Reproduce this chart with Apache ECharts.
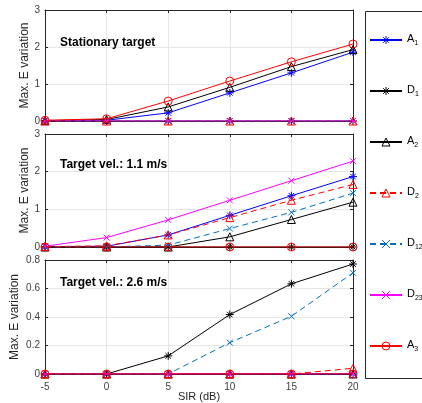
<!DOCTYPE html>
<html>
<head>
<meta charset="utf-8">
<script src="https://cdn.jsdelivr.net/npm/echarts@6/dist/echarts.min.js"></script>
<style>
  html, body { margin: 0; padding: 0; background: #fff; }
  #chart { width: 422px; height: 403px; }
</style>
</head>
<body>
<div id="chart"></div>
<script>
// Signal-to-interference ratio (dB) on the shared x axis
const sir = [-5, 0, 5, 10, 15, 20];
const seriesNames = ['A1', 'D1', 'A2', 'D2', 'D12', 'D23', 'A3'];
const panelTitles = ['Stationary target', 'Target vel.: 1.1 m/s', 'Target vel.: 2.6 m/s'];
const yTicksTop = [0, 1, 2, 3];
const yTicksBottom = [0, 0.2, 0.4, 0.6, 0.8];

// Max. E variation, stationary target
const stat_A1 = [0.01, 0.02, 0.22, 0.76, 1.30, 1.86];
const stat_D1 = [0, 0, 0, 0, 0, 0];
const stat_A2 = [0.01, 0.04, 0.38, 0.91, 1.47, 1.93];
const stat_D2 = [0, 0, 0, 0, 0, 0];
const stat_D12 = [0, 0, 0, 0, 0, 0];
const stat_D23 = [0, 0, 0, 0, 0, 0];
const stat_A3 = [0.02, 0.06, 0.54, 1.08, 1.60, 2.08];

// Max. E variation, target velocity 1.1 m/s
const v11_A1 = [0.01, 0.02, 0.32, 0.84, 1.36, 1.87];
const v11_D1 = [0, 0, 0, 0, 0, 0];
const v11_A2 = [0, 0, 0, 0.27, 0.73, 1.19];
const v11_D2 = [0.01, 0.03, 0.32, 0.78, 1.24, 1.66];
const v11_D12 = [0, 0, 0.05, 0.49, 0.92, 1.43];
const v11_D23 = [0.02, 0.25, 0.72, 1.24, 1.76, 2.28];
const v11_A3 = [0, 0, 0, 0, 0, 0];

// Max. E variation, target velocity 2.6 m/s
const v26_A1 = [0, 0, 0, 0, 0, 0];
const v26_D1 = [0, 0, 0.127, 0.417, 0.633, 0.772];
const v26_A2 = [0, 0, 0, 0, 0, 0];
const v26_D2 = [0, 0, 0, 0, 0, 0.04];
const v26_D12 = [0, 0, 0, 0.22, 0.405, 0.71];
const v26_D23 = [0, 0, 0, 0, 0, 0];
const v26_A3 = [0, 0, 0, 0, 0, 0];

const panels = [
  [stat_A1, stat_D1, stat_A2, stat_D2, stat_D12, stat_D23, stat_A3],
  [v11_A1, v11_D1, v11_A2, v11_D2, v11_D12, v11_D23, v11_A3],
  [v26_A1, v26_D1, v26_A2, v26_D2, v26_D12, v26_D23, v26_A3]
];

// Marker shapes drawn as stroked paths
const STAR = 'path://M0,-5L0,5M-5,0L5,0M-3.5,-3.5L3.5,3.5M-3.5,3.5L3.5,-3.5';
const CROSS = 'path://M-5,-5L5,5M-5,5L5,-5';
const TRI = 'path://M0,-5L5,4L-5,4Z';
const CIRC = 'path://M5,0A5,5 0 1 1 -5,0A5,5 0 1 1 5,0Z';

const styles = {
  A1:  { color: '#0000ff', dash: 'solid',  symbol: STAR,  size: 8 },
  D1:  { color: '#000000', dash: 'solid',  symbol: STAR,  size: 8 },
  A2:  { color: '#000000', dash: 'solid',  symbol: TRI,   size: 8 },
  D2:  { color: '#ff0000', dash: [6, 4],   symbol: TRI,   size: 8 },
  D12: { color: '#0072bd', dash: [6, 4],   symbol: CROSS, size: 6 },
  D23: { color: '#ff00ff', dash: 'solid',  symbol: CROSS, size: 6 },
  A3:  { color: '#ff0000', dash: 'solid',  symbol: CIRC,  size: 8 }
};

const grids = [
  { left: 45, top: 10, width: 308, height: 111 },
  { left: 45, top: 134, width: 308, height: 113 },
  { left: 45, top: 260, width: 308, height: 115 }
];

const FONT = 'Liberation Sans, Arial, sans-serif';
const axisColor = '#262626';
const tickFont = { fontFamily: FONT, fontSize: 10, color: '#404040' };

const xAxes = [];
const yAxes = [];
grids.forEach((g, i) => {
  const bottom = i === 2;
  xAxes.push({
    type: 'value', gridIndex: i, min: sir[0], max: sir[sir.length - 1], interval: 5,
    position: 'bottom',
    axisLine: { show: true, onZero: false, lineStyle: { color: axisColor, width: 1 } },
    axisTick: { show: true, inside: true, length: 3, lineStyle: { color: axisColor } },
    axisLabel: Object.assign({ show: bottom, margin: 8 }, tickFont),
    splitLine: { show: true, lineStyle: { color: '#e6e6e6', width: 1 } },
    name: bottom ? 'SIR (dB)' : '',
    nameLocation: 'middle', nameGap: 17, nameMoveOverlap: false,
    nameTextStyle: { fontFamily: FONT, fontSize: 11, color: axisColor }
  });
  xAxes.push({
    type: 'value', gridIndex: i, min: sir[0], max: sir[sir.length - 1], interval: 5,
    position: 'top',
    axisLine: { show: true, onZero: false, lineStyle: { color: axisColor, width: 1 } },
    axisTick: { show: true, inside: true, length: 3, lineStyle: { color: axisColor } },
    axisLabel: { show: false }, splitLine: { show: false }
  });
  const ticks = bottom ? yTicksBottom : yTicksTop;
  const yBase = {
    type: 'value', gridIndex: i, min: ticks[0], max: ticks[ticks.length - 1],
    interval: ticks[1] - ticks[0]
  };
  yAxes.push(Object.assign({}, yBase, {
    position: 'left',
    axisLine: { show: true, onZero: false, lineStyle: { color: axisColor, width: 1 } },
    axisTick: { show: true, inside: true, length: 3, lineStyle: { color: axisColor } },
    axisLabel: Object.assign({ show: true, margin: 5,
      formatter: v => (bottom ? (v === 0 ? '0' : v.toFixed(1)) : String(v)) }, tickFont),
    splitLine: { show: true, lineStyle: { color: '#e6e6e6', width: 1 } },
    name: 'Max. E variation', nameLocation: 'middle', nameGap: bottom ? 24 : 14,
    nameMoveOverlap: false,
    nameTextStyle: { fontFamily: FONT, fontSize: 12, color: axisColor }
  }));
  yAxes.push(Object.assign({}, yBase, {
    position: 'right',
    axisLine: { show: true, onZero: false, lineStyle: { color: axisColor, width: 1 } },
    axisTick: { show: true, inside: true, length: 3, lineStyle: { color: axisColor } },
    axisLabel: { show: false }, splitLine: { show: false }
  }));
});

const series = [];
panels.forEach((vals, p) => {
  seriesNames.forEach((name, k) => {
    const s = styles[name];
    series.push({
      name: name, type: 'line',
      xAxisIndex: p * 2, yAxisIndex: p * 2,
      data: sir.map((x, j) => [x, vals[k][j]]),
      symbol: s.symbol, symbolSize: s.size, showAllSymbol: true,
      lineStyle: { color: s.color, width: 1, type: s.dash },
      itemStyle: { color: 'none', borderColor: s.color, borderWidth: 1 },
      emphasis: { disabled: true },
      animation: false, z: 2 + k
    });
  });
});

const chart = echarts.init(document.getElementById('chart'), null, { renderer: 'canvas' });
chart.setOption({
  backgroundColor: '#ffffff',
  animation: false,
  grid: grids,
  xAxis: xAxes,
  yAxis: yAxes,
  title: panelTitles.map((t, i) => ({
    text: t, left: 55, top: [32, 154, 272][i],
    textStyle: { fontFamily: FONT, fontSize: 12, fontWeight: 'bold', color: '#000' }
  })),
  legend: {
    data: seriesNames.map(n => ({
      name: n,
      itemStyle: { color: 'none', borderColor: styles[n].color, borderWidth: 1 }
    })),
    orient: 'vertical', left: 369, top: 33, padding: 0,
    itemWidth: 32, itemHeight: 10, itemGap: 37, itemTextGap: 0,
    selectedMode: false,
    formatter: n => '{m|' + n.charAt(0) + '}{s|' + n.slice(1) + '}',
    textStyle: {
      fontFamily: FONT, fontSize: 11, color: '#000',
      rich: {
        m: { fontSize: 11, lineHeight: 14, verticalAlign: 'top', color: '#000' },
        s: { fontSize: 7, lineHeight: 14, verticalAlign: 'bottom', padding: [6, 0, 0, 0], color: '#000' }
      }
    }
  },
  graphic: [{
    type: 'rect', left: 363, top: 9,
    shape: { width: 80, height: 367 },
    style: { fill: 'none', stroke: axisColor, lineWidth: 1 },
    z: 100
  }],
  series: series
});
</script>
</body>
</html>
